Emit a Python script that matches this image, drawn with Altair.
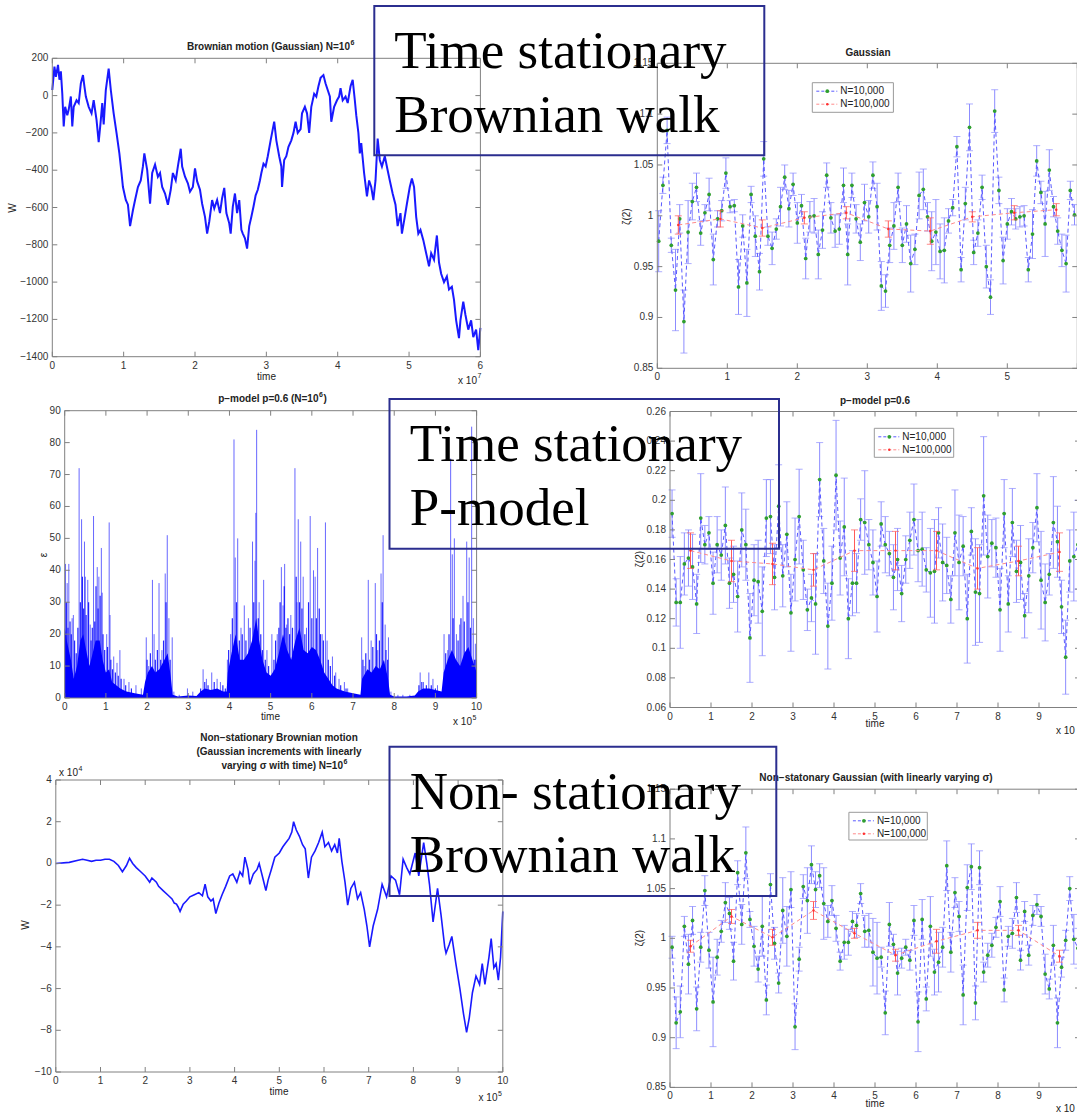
import altair as alt
import pandas as pd

CW, CH = 1077, 1114
SANS = "Liberation Sans"
SERIF = "Liberation Serif"
LABEL_C = "#333333"
FRAME_C = "#808080"

# ------------------------------------------------------------------ data
# Panel 1: stationary Brownian walk (time in 1e7, W)
bm_t = [0.00,0.03,0.05,0.08,0.10,0.12,0.14,0.16,0.18,0.21,0.23,0.26,0.28,0.30,0.34,0.37,0.40,0.43,0.45,0.47,
        0.51,0.55,0.58,0.62,0.65,0.68,0.70,0.72,0.75,0.79,0.82,0.86,0.90,0.94,0.97,0.99,1.03,1.06,1.09,1.13,
        1.16,1.20,1.24,1.27,1.29,1.33,1.37,1.40,1.44,1.48,1.51,1.54,1.58,1.62,1.66,1.69,1.73,1.76,1.80,1.82,
        1.86,1.90,1.93,1.97,2.00,2.03,2.07,2.10,2.14,2.17,2.20,2.24,2.27,2.31,2.35,2.38,2.41,2.44,2.48,2.50,
        2.53,2.56,2.59,2.62,2.65,2.67,2.70,2.73,2.76,2.79,2.82,2.85,2.88,2.91,2.93,2.96,2.99,3.02,3.06,3.08,
        3.11,3.14,3.18,3.21,3.22,3.25,3.28,3.31,3.35,3.38,3.41,3.44,3.48,3.50,3.54,3.57,3.60,3.63,3.67,3.70,
        3.73,3.76,3.80,3.83,3.86,3.89,3.91,3.95,3.99,4.02,4.04,4.07,4.11,4.14,4.18,4.21,4.24,4.26,4.29,4.31,
        4.33,4.37,4.41,4.44,4.47,4.50,4.53,4.56,4.59,4.62,4.66,4.70,4.73,4.77,4.81,4.84,4.88,4.90,4.94,4.97,
        5.01,5.04,5.07,5.10,5.13,5.16,5.20,5.24,5.28,5.31,5.35,5.39,5.42,5.45,5.49,5.53,5.56,5.60,5.63,5.66,
        5.70,5.72,5.76,5.79,5.83,5.87,5.90,5.94,5.97,6.00]
bm_w = [30,155,100,165,85,130,10,-165,-60,-105,-75,-5,-165,-60,-25,-40,65,110,50,-5,
        -60,-95,-25,-130,-250,-130,-40,-155,30,145,30,-95,-200,-310,-415,-490,-560,-585,-700,-615,
        -560,-490,-455,-380,-310,-400,-580,-415,-370,-435,-415,-490,-525,-585,-505,-415,-455,-380,-285,-380,
        -435,-470,-515,-490,-390,-460,-505,-580,-650,-740,-675,-560,-605,-560,-630,-550,-495,-630,-685,-740,
        -595,-525,-630,-560,-720,-740,-765,-820,-700,-650,-595,-535,-505,-455,-415,-365,-380,-325,-240,-200,
        -140,-240,-325,-380,-490,-345,-325,-275,-240,-200,-140,-200,-180,-95,-60,-95,-200,-60,10,-5,
        50,95,110,65,30,-5,-140,-60,-25,-5,40,-25,-5,-40,50,85,-25,-105,-200,-310,
        -255,-415,-540,-455,-490,-560,-455,-230,-345,-380,-325,-400,-455,-525,-585,-700,-630,-740,-650,-580,
        -490,-445,-490,-650,-740,-720,-775,-845,-915,-845,-880,-750,-895,-955,-1000,-970,-1040,-1025,-1095,-1205,
        -1300,-1205,-1105,-1175,-1255,-1205,-1295,-1255,-1365,-1245]

# Panel 3: p-model cascade (time in 1e5, epsilon)
pm_base_t = [0.0,0.05,0.15,0.22,0.3,0.38,0.45,0.52,0.6,0.68,0.75,0.85,0.92,1.0,1.08,1.15,1.25,1.35,1.5,1.7,
             1.9,1.95,2.02,2.12,2.2,2.3,2.42,2.5,2.58,2.62,2.75,3.0,3.2,3.3,3.4,3.55,3.7,3.85,3.93,3.96,
             4.05,4.15,4.25,4.35,4.45,4.55,4.65,4.72,4.8,4.9,5.0,5.1,5.2,5.3,5.4,5.5,5.6,5.7,5.8,5.9,
             6.0,6.1,6.2,6.3,6.4,6.5,6.6,6.8,7.0,7.18,7.22,7.35,7.45,7.55,7.65,7.75,7.85,7.9,8.0,8.3,
             8.5,8.58,8.7,8.85,9.0,9.15,9.2,9.3,9.4,9.5,9.6,9.7,9.8,9.9,10.0]
pm_base_v = [22,18,12,6,10,18,20,15,10,14,18,18,12,8,9,5,4,3,2,1.5,
             1,5,8,10,8,9,12,14,6,1,0.5,0.8,0.6,2,3,2.5,3,2,2,8,
             14,20,12,12,14,18,25,18,12,8,7,9,14,20,15,12,18,22,15,14,
             16,15,12,8,6,4,3,2,1.5,1,6,9,8,10,9,12,6,1,0.5,0.5,
             0.8,2,3,3,2.5,2,8,12,15,12,10,14,16,12,8]
pm_mid_t = [0.04,0.08,0.13,0.16,0.24,0.28,0.32,0.38,0.43,0.46,0.52,0.58,0.64,0.67,0.73,0.76,0.81,0.86,0.93,0.97,
            1.04,1.12,1.16,1.23,1.30,1.37,1.48,1.62,2.00,2.08,2.20,2.25,2.33,2.40,2.46,2.56,3.30,3.40,3.48,3.63,
            3.84,3.90,3.98,4.07,4.17,4.24,4.31,4.40,4.50,4.59,4.70,4.76,4.80,4.87,4.95,5.08,5.12,5.20,5.23,5.33,
            5.37,5.42,5.46,5.53,5.62,5.70,5.76,5.83,5.92,6.00,6.11,6.18,6.21,6.28,6.40,6.45,6.55,6.70,6.83,7.24,
            7.31,7.40,7.48,7.57,7.64,7.71,7.80,7.84,8.60,8.67,8.78,8.90,9.00,9.25,9.33,9.43,9.55,9.62,9.70,9.79,
            9.85,9.95,9.99]
pm_mid_v = [30,22,24,20,18,14,22,30,38,28,26,30,18,22,24,35,28,32,20,15,
            16,12,9,8,7,6,4,3,12,14,12,15,12,18,30,12,3,5,4,5,
            4,3,15,25,30,18,20,18,22,30,25,20,15,12,10,12,18,22,30,35,
            22,25,20,22,38,30,28,20,30,25,25,28,20,18,12,10,7,4,3,12,
            14,12,16,20,18,30,15,12,4,5,4,4,3,14,20,25,18,25,24,30,
            22,12,12]
pm_spk_t = [0.02,0.06,0.10,0.18,0.21,0.35,0.41,0.48,0.50,0.56,0.62,0.70,0.79,0.83,0.89,0.91,1.02,1.08,1.10,1.19,
            1.27,1.34,1.44,1.56,1.73,1.86,1.98,2.04,2.13,2.17,2.29,2.36,2.44,2.49,2.53,2.61,2.65,2.78,2.98,3.11,
            3.36,3.44,3.57,3.70,3.78,3.95,4.03,4.11,4.14,4.20,4.28,4.36,4.46,4.56,4.62,4.64,4.66,4.72,4.83,4.91,
            5.03,5.16,5.26,5.30,5.34,5.39,5.49,5.59,5.64,5.67,5.73,5.79,5.87,5.96,6.04,6.08,6.14,6.25,6.33,6.37,
            6.50,6.58,6.66,6.79,6.87,7.21,7.27,7.37,7.44,7.54,7.60,7.68,7.73,7.78,7.86,7.92,8.09,8.21,8.38,8.63,
            8.71,8.84,8.94,9.05,9.21,9.30,9.37,9.41,9.46,9.51,9.59,9.67,9.76,9.82,9.88,9.92,9.97]
pm_spk_v = [42,36,42,25,26,72,56,49,38,37,23,57,41,38,47,33,20,55,26,13,
            11,15,6,5,4,3,19,10,37,20,36,15,39,51,25,19,2,1,3,2,
            9,6,8,6,5,12,20,81,44,50,22,29,25,49,43,58,84,30,37,15,
            20,20,41,29,42,23,26,72,30,56,49,38,22,57,40,38,47,20,55,18,
            13,8,6,5,3,19,10,37,18,36,15,39,51,23,19,2,1,1,1,8,
            5,8,6,4,20,15,75,45,50,20,23,32,49,44,85,25,17]

# Panel 5: non-stationary Brownian walk (time in 1e5, W in 1e4)
ns_t = [0.0,0.3,0.5,0.6,0.7,0.8,0.9,1.0,1.1,1.2,1.3,1.4,1.49,1.58,1.65,1.72,1.8,1.9,2.0,2.1,
        2.15,2.25,2.3,2.4,2.5,2.6,2.65,2.7,2.74,2.78,2.85,2.92,3.0,3.1,3.2,3.28,3.34,3.4,3.47,3.52,
        3.58,3.65,3.72,3.8,3.89,3.96,4.05,4.12,4.18,4.23,4.3,4.34,4.42,4.5,4.55,4.62,4.7,4.75,4.82,4.9,
        5.0,5.08,5.15,5.22,5.28,5.32,5.38,5.45,5.52,5.58,5.65,5.72,5.8,5.88,5.96,6.02,6.1,6.17,6.24,6.3,
        6.34,6.4,6.47,6.53,6.6,6.68,6.75,6.82,6.9,6.96,7.02,7.1,7.2,7.3,7.4,7.5,7.6,7.69,7.77,7.85,
        7.92,8.04,8.12,8.23,8.3,8.36,8.44,8.54,8.62,8.7,8.73,8.8,8.86,8.95,9.04,9.12,9.19,9.25,9.32,9.4,
        9.48,9.54,9.6,9.69,9.74,9.8,9.85,9.9,9.95,10.0]
ns_w = [0.0,0.05,0.15,0.2,0.15,0.1,0.15,0.15,0.2,0.2,0.1,-0.1,-0.4,-0.1,0.25,0.0,-0.2,-0.4,-0.6,-0.9,
        -0.7,-0.9,-1.1,-1.3,-1.5,-1.7,-1.9,-1.95,-2.1,-2.3,-1.95,-1.8,-1.6,-1.5,-1.4,-1.55,-1.0,-1.6,-1.8,-1.7,
        -2.4,-1.9,-1.5,-1.1,-0.6,-0.5,-0.9,-0.4,-0.6,0.3,-0.3,-1.0,-0.5,-0.3,0.0,-0.6,-1.3,-0.8,-0.3,0.3,
        0.5,0.8,1.0,1.2,1.5,2.0,1.6,1.3,0.9,0.7,-0.7,0.3,0.6,1.0,1.5,0.8,1.0,0.6,0.9,0.5,
        1.2,0.1,-0.9,-2.0,-1.2,-0.9,-1.7,-1.4,-2.2,-3.0,-4.0,-3.0,-2.2,-1.0,-1.6,-0.6,-0.8,-1.5,0.2,-0.2,
        -0.5,0.5,-0.6,1.0,0.0,-1.0,-2.8,-1.2,-2.5,-4.0,-4.3,-3.9,-3.5,-4.8,-6.0,-7.2,-8.1,-7.4,-6.2,-5.4,
        -5.8,-4.8,-5.8,-4.5,-3.6,-5.0,-4.8,-5.6,-4.5,-2.3]

# Panel 2: Gaussian zeta(2)
g_val = [0.975,1.030,1.084,0.971,0.927,0.997,0.896,0.984,1.014,1.028,
         0.983,1.003,1.021,0.957,0.997,1.005,1.042,1.009,1.010,0.930,
         0.990,0.934,1.021,0.980,0.945,1.056,0.980,0.968,0.987,1.009,
         1.038,1.007,1.031,0.993,1.010,0.958,0.999,1.000,0.962,0.986,
         1.040,0.998,0.985,0.987,1.030,0.962,1.030,0.997,0.974,1.013,
         0.999,1.040,1.009,0.931,0.926,0.971,0.990,1.028,0.971,0.992,
         0.953,0.967,1.020,1.026,0.999,0.975,0.984,0.965,0.966,0.995,
         1.008,1.068,0.947,1.012,1.087,0.964,0.983,1.028,0.950,0.920,
         1.103,1.025,0.956,0.992,1.004,0.997,0.999,1.000,0.947,0.982,
         1.054,1.023,0.992,1.045,1.009,0.985,0.966,0.953,1.025,1.001]
g_err = [0.030,0.008,0.013,0.007,0.040,0.014,0.031,0.031,0.018,0.014,
         0.012,0.008,0.016,0.025,0.008,0.010,0.015,0.006,0.006,0.027,
         0.011,0.033,0.008,0.020,0.018,0.017,0.009,0.016,0.010,0.019,
         0.012,0.018,0.011,0.020,0.011,0.020,0.015,0.017,0.024,0.018,
         0.012,0.015,0.016,0.015,0.017,0.030,0.012,0.014,0.018,0.018,
         0.016,0.013,0.023,0.024,0.016,0.017,0.023,0.014,0.017,0.018,
         0.028,0.015,0.023,0.020,0.014,0.029,0.032,0.027,0.032,0.012,
         0.008,0.010,0.012,0.016,0.023,0.012,0.013,0.012,0.021,0.017,
         0.021,0.013,0.023,0.015,0.013,0.010,0.010,0.010,0.012,0.024,
         0.015,0.011,0.032,0.020,0.010,0.013,0.016,0.028,0.009,0.010]
g_red_val = [0.991,0.997,0.988,0.998,1.003,0.987,0.985,0.999,1.003,1.006]
g_red_err = [0.009,0.008,0.008,0.006,0.006,0.008,0.013,0.005,0.007,0.006]

# Panel 4: p-model zeta(2)
p_val = [0.191,0.131,0.131,0.157,0.161,0.155,0.130,0.188,0.170,0.178,
         0.144,0.170,0.163,0.183,0.144,0.150,0.135,0.180,0.170,0.107,
         0.146,0.145,0.125,0.188,0.189,0.148,0.196,0.149,0.177,0.124,
         0.160,0.189,0.153,0.126,0.134,0.130,0.214,0.159,0.115,0.144,
         0.217,0.161,0.182,0.120,0.144,0.144,0.187,0.185,0.170,0.158,
         0.135,0.184,0.170,0.164,0.148,0.160,0.137,0.160,0.173,0.187,
         0.166,0.167,0.153,0.151,0.152,0.178,0.158,0.156,0.133,0.178,
         0.158,0.169,0.120,0.179,0.138,0.137,0.203,0.162,0.171,0.168,
         0.126,0.191,0.130,0.185,0.152,0.158,0.122,0.149,0.168,0.195,
         0.146,0.131,0.150,0.185,0.172,0.128,0.094,0.159,0.162,0.170]
p_err = [0.016,0.016,0.031,0.021,0.019,0.022,0.020,0.030,0.013,0.011,
         0.021,0.019,0.017,0.026,0.017,0.019,0.024,0.025,0.024,0.030,
         0.024,0.028,0.030,0.026,0.025,0.022,0.028,0.021,0.022,0.026,
         0.028,0.032,0.020,0.014,0.016,0.034,0.025,0.022,0.029,0.025,
         0.037,0.025,0.033,0.027,0.022,0.020,0.014,0.035,0.017,0.022,
         0.024,0.015,0.019,0.015,0.022,0.021,0.019,0.016,0.019,0.024,
         0.021,0.025,0.015,0.030,0.035,0.017,0.026,0.019,0.016,0.029,
         0.032,0.020,0.030,0.016,0.036,0.033,0.040,0.028,0.016,0.020,
         0.028,0.023,0.019,0.023,0.021,0.025,0.015,0.025,0.017,0.023,
         0.033,0.026,0.014,0.031,0.024,0.018,0.025,0.021,0.030,0.030]
p_red_val = [0.166,0.159,0.157,0.153,0.166,0.166,0.166,0.154,0.159,0.165]
p_red_err = [0.012,0.014,0.014,0.011,0.014,0.013,0.013,0.014,0.010,0.013]

# Panel 6: non-stationary Gaussian zeta(2)
n_val = [0.991,0.915,0.926,1.012,0.974,1.018,0.929,0.991,1.048,0.988,
         0.936,0.981,1.007,1.036,1.025,0.977,1.066,1.014,1.086,1.019,
         0.992,0.969,1.012,0.938,1.054,0.995,0.955,1.028,1.002,1.049,
         0.911,0.979,1.052,1.038,1.074,1.049,1.063,1.035,1.017,1.038,
         1.010,0.977,0.996,0.996,1.017,1.013,1.045,1.007,1.008,0.986,
         0.980,0.981,0.925,1.014,0.994,0.965,0.980,0.991,0.978,1.018,
         0.916,1.019,0.939,1.012,0.966,0.976,0.991,1.073,0.986,1.046,
         1.022,0.943,1.051,1.072,0.935,1.071,0.966,0.983,0.993,1.011,
         1.037,0.948,1.002,1.005,1.041,0.978,1.027,0.983,1.023,1.034,
         1.022,0.964,0.949,0.993,0.915,0.971,0.998,1.050,0.999,0.990]
n_err = [0.011,0.026,0.026,0.010,0.030,0.014,0.022,0.015,0.015,0.018,
         0.045,0.018,0.011,0.020,0.016,0.019,0.012,0.020,0.026,0.008,
         0.020,0.013,0.030,0.015,0.011,0.016,0.010,0.033,0.030,0.018,
         0.023,0.012,0.012,0.033,0.019,0.018,0.012,0.036,0.016,0.015,
         0.013,0.009,0.017,0.013,0.010,0.012,0.010,0.016,0.017,0.034,
         0.036,0.010,0.022,0.022,0.010,0.022,0.010,0.008,0.010,0.015,
         0.030,0.020,0.012,0.030,0.023,0.030,0.020,0.025,0.020,0.015,
         0.015,0.030,0.023,0.023,0.017,0.017,0.010,0.012,0.012,0.010,
         0.015,0.012,0.010,0.015,0.015,0.010,0.010,0.010,0.010,0.010,
         0.010,0.020,0.010,0.020,0.025,0.010,0.010,0.012,0.025,0.020]
n_red_val = [0.992,1.022,1.001,1.028,1.005,0.983,0.997,1.008,1.008,0.982]
n_red_err = [0.006,0.007,0.008,0.009,0.005,0.006,0.012,0.008,0.005,0.006]

# window centres (100 windows of N=10,000 and 10 windows of N=100,000)
g_t = [0.02 + 0.06 * i for i in range(100)]
g_red_t = [0.3 + 0.6 * k for k in range(10)]
w_t = [0.05 + 0.1 * i for i in range(100)]
w_red_t = [0.5 + 1.0 * k for k in range(10)]

# tick values
t6 = [0, 1, 2, 3, 4, 5, 6]
t10 = [0, 1, 2, 3, 4, 5, 6, 7, 8, 9, 10]
y1_ticks = [-1400, -1200, -1000, -800, -600, -400, -200, 0, 200]
zeta_ticks = [0.85, 0.9, 0.95, 1.0, 1.05, 1.1, 1.15]
eps_ticks = [0, 10, 20, 30, 40, 50, 60, 70, 80, 90]
pz_ticks = [0.06, 0.08, 0.1, 0.12, 0.14, 0.16, 0.18, 0.2, 0.22, 0.24, 0.26]
y5_ticks = [-10, -8, -6, -4, -2, 0, 2, 4]

# ------------------------------------------------------------------ layout (pixels)
G1 = dict(xdom=[0, 6], ydom=[-1400, 200], x0=52.3, x1=480.4, yb=356.7, yt=58.3)
G2 = dict(xdom=[0, 6], ydom=[0.85, 1.15], x0=657.3, x1=1077.3, yb=368.3, yt=63.3)
G3 = dict(xdom=[0, 10], ydom=[0, 90], x0=64.7, x1=476.6, yb=698.0, yt=410.7)
G4 = dict(xdom=[0, 10], ydom=[0.06, 0.26], x0=670.0, x1=1080.0, yb=707.5, yt=411.5)
G5 = dict(xdom=[0, 10], ydom=[-10, 4], x0=55.8, x1=502.8, yb=1072.0, yt=780.0)
G6 = dict(xdom=[0, 10], ydom=[0.85, 1.15], x0=670.0, x1=1080.0, yb=1087.4, yt=789.2)


def one():
    return pd.DataFrame({"k": [0]})


def fmt(v):
    return ("%g" % v).replace("-", "\u2212")


def scales(g):
    xs = alt.Scale(domain=g["xdom"], range=[g["x0"], g["x1"]], nice=False, zero=False)
    ys = alt.Scale(domain=g["ydom"], range=[g["yb"], g["yt"]], nice=False, zero=False)
    return xs, ys


def frame(g, xticks, yticks, xlabels, ylabels):
    xs, ys = scales(g)
    xd, yd = g["xdom"], g["ydom"]
    tx = 5.0 / (g["x1"] - g["x0"]) * (xd[1] - xd[0])
    ty = 5.0 / (g["yb"] - g["yt"]) * (yd[1] - yd[0])
    rule = dict(color=FRAME_C, strokeWidth=1)
    boxdf = pd.DataFrame({"xa": [xd[0]], "xb": [xd[1]], "ya": [yd[0]], "yb": [yd[1]]})
    box = alt.Chart(boxdf).mark_rect(fillOpacity=0, stroke=FRAME_C, strokeWidth=1).encode(
        x=alt.X("xa:Q", scale=xs, axis=None), x2="xb:Q",
        y=alt.Y("ya:Q", scale=ys, axis=None), y2="yb:Q")
    n, m = len(xticks), len(yticks)
    bdf = pd.DataFrame({"v": xticks, "a": [yd[0]] * n, "b": [yd[0] + ty] * n})
    tdf = pd.DataFrame({"v": xticks, "a": [yd[1]] * n, "b": [yd[1] - ty] * n})
    ldf = pd.DataFrame({"v": yticks, "a": [xd[0]] * m, "b": [xd[0] + tx] * m})
    rdf = pd.DataFrame({"v": yticks, "a": [xd[1]] * m, "b": [xd[1] - tx] * m})
    X = lambda f: alt.X(f, scale=xs, axis=None)
    Y = lambda f: alt.Y(f, scale=ys, axis=None)
    bottom = alt.Chart(bdf).mark_rule(**rule).encode(x=X("v:Q"), y=Y("a:Q"), y2="b:Q")
    top = alt.Chart(tdf).mark_rule(**rule).encode(x=X("v:Q"), y=Y("a:Q"), y2="b:Q")
    left = alt.Chart(ldf).mark_rule(**rule).encode(y=Y("v:Q"), x=X("a:Q"), x2="b:Q")
    right = alt.Chart(rdf).mark_rule(**rule).encode(y=Y("v:Q"), x=X("a:Q"), x2="b:Q")
    xl = pd.DataFrame({"v": xlabels, "a": [yd[0]] * len(xlabels), "lab": [fmt(v) for v in xlabels]})
    yl = pd.DataFrame({"v": ylabels, "a": [xd[0]] * len(ylabels), "lab": [fmt(v) for v in ylabels]})
    xlab = alt.Chart(xl).mark_text(font=SANS, fontSize=10, color=LABEL_C, baseline="top", dy=4).encode(
        x=X("v:Q"), y=Y("a:Q"), text="lab:N")
    ylab = alt.Chart(yl).mark_text(font=SANS, fontSize=10, color=LABEL_C, align="right",
                                   baseline="middle", dx=-4).encode(
        y=Y("v:Q"), x=X("a:Q"), text="lab:N")
    return [box, bottom, top, left, right, xlab, ylab]


def errbars(g, t, v, e, line_c, bar_c, pt_c, pt_size, dash):
    xs, ys = scales(g)
    df = pd.DataFrame({"t": t, "v": v,
                       "lo": [a - b for a, b in zip(v, e)],
                       "hi": [a + b for a, b in zip(v, e)]})
    base = alt.Chart(df)
    X = alt.X("t:Q", scale=xs, axis=None)
    bars = base.mark_rule(color=bar_c, strokeWidth=1).encode(
        x=X, y=alt.Y("lo:Q", scale=ys, axis=None), y2="hi:Q")
    cap_lo = base.mark_tick(color=bar_c, orient="horizontal", size=7, thickness=1).encode(
        x=X, y=alt.Y("lo:Q", scale=ys, axis=None))
    cap_hi = base.mark_tick(color=bar_c, orient="horizontal", size=7, thickness=1).encode(
        x=X, y=alt.Y("hi:Q", scale=ys, axis=None))
    line = base.mark_line(color=line_c, strokeDash=dash, strokeWidth=1).encode(
        x=X, y=alt.Y("v:Q", scale=ys, axis=None))
    pts = base.mark_point(filled=True, color=pt_c, size=pt_size, opacity=1).encode(
        x=X, y=alt.Y("v:Q", scale=ys, axis=None))
    return [bars, cap_lo, cap_hi, line, pts]


def vtext(txt, x, y, size=10, weight="normal", align="center", font=SANS, color="#222222",
          baseline="middle", angle=0):
    return alt.Chart(one()).mark_text(text=txt, font=font, fontSize=size, fontWeight=weight,
                                      align=align, baseline=baseline, color=color, angle=angle).encode(
        x=alt.value(x), y=alt.value(y))


def legend(x0, y0, x1, y1):
    out = [alt.Chart(one()).mark_rect(fill="white", stroke="#9a9a9a", strokeWidth=1).encode(
        x=alt.value(x0), x2=alt.value(x1), y=alt.value(y0), y2=alt.value(y1))]
    rows = [(y0 + 8.5, "#5a5aff", "#2f9f2f", 14, "N=10,000"),
            (y0 + 21.5, "#ff8a8a", "#ff3030", 6, "N=100,000")]
    for yy, lc, pc, ps, lab in rows:
        out.append(alt.Chart(one()).mark_rule(color=lc, strokeDash=[3, 2], strokeWidth=1).encode(
            x=alt.value(x0 + 4), x2=alt.value(x0 + 25), y=alt.value(yy)))
        out.append(alt.Chart(one()).mark_point(filled=True, color=pc, size=ps, opacity=1).encode(
            x=alt.value(x0 + 15), y=alt.value(yy)))
        out.append(vtext(lab, x0 + 28, yy, align="left"))
    return out


BLUE = "#0000ff"
BL_LINE, BL_BAR, GREEN = "#5a5aff", "#8c8cff", "#2f9f2f"
RD_LINE, RD_BAR, RD_PT = "#ff8a8a", "#ff5a5a", "#ff3030"

# ---------------- panel 1
xs1, ys1 = scales(G1)
p1_line = alt.Chart(pd.DataFrame({"t": bm_t, "w": bm_w})).mark_line(
    color=BLUE, strokeWidth=2.0, opacity=0.9).encode(
    x=alt.X("t:Q", scale=xs1, axis=None), y=alt.Y("w:Q", scale=ys1, axis=None))
panel1 = alt.layer(p1_line, *frame(G1, t6, y1_ticks, t6, y1_ticks))

# ---------------- panel 2
panel2 = alt.layer(
    *errbars(G2, g_t, g_val, g_err, BL_LINE, BL_BAR, GREEN, 14, [4, 3]),
    *errbars(G2, g_red_t, g_red_val, g_red_err, RD_LINE, RD_BAR, RD_PT, 6, [4, 3]),
    *frame(G2, t6, zeta_ticks, t6[:-1], zeta_ticks),
    *legend(812.3, 82.7, 893.4, 112.3))

# ---------------- panel 3
xs3, ys3 = scales(G3)
p3_area = alt.Chart(pd.DataFrame({"t": pm_base_t, "v": pm_base_v})).mark_area(
    color=BLUE, opacity=1).encode(
    x=alt.X("t:Q", scale=xs3, axis=None), y=alt.Y("v:Q", scale=ys3, axis=None))
p3_mid = alt.Chart(pd.DataFrame({"t": pm_mid_t, "v": pm_mid_v, "z": [0] * len(pm_mid_t)})).mark_rule(
    color=BLUE, strokeWidth=1.2, opacity=0.85).encode(
    x=alt.X("t:Q", scale=xs3, axis=None), y=alt.Y("z:Q", scale=ys3, axis=None), y2="v:Q")
p3_spk = alt.Chart(pd.DataFrame({"t": pm_spk_t, "v": pm_spk_v, "z": [0] * len(pm_spk_t)})).mark_rule(
    color=BLUE, strokeWidth=1, opacity=0.6).encode(
    x=alt.X("t:Q", scale=xs3, axis=None), y=alt.Y("z:Q", scale=ys3, axis=None), y2="v:Q")
panel3 = alt.layer(p3_spk, p3_mid, p3_area, *frame(G3, t10, eps_ticks, t10, eps_ticks))

# ---------------- panel 4
panel4 = alt.layer(
    *errbars(G4, w_t, p_val, p_err, BL_LINE, BL_BAR, GREEN, 14, [4, 3]),
    *errbars(G4, w_red_t, p_red_val, p_red_err, RD_LINE, RD_BAR, RD_PT, 6, [4, 3]),
    *frame(G4, t10, pz_ticks, t10[:-1], pz_ticks),
    *legend(874.3, 428.3, 953.7, 457.3))

# ---------------- panel 5
xs5, ys5 = scales(G5)
p5_line = alt.Chart(pd.DataFrame({"t": ns_t, "w": ns_w})).mark_line(
    color=BLUE, strokeWidth=1.6, opacity=0.9).encode(
    x=alt.X("t:Q", scale=xs5, axis=None), y=alt.Y("w:Q", scale=ys5, axis=None))
panel5 = alt.layer(p5_line, *frame(G5, t10, y5_ticks, t10, y5_ticks))

# ---------------- panel 6
panel6 = alt.layer(
    *errbars(G6, w_t, n_val, n_err, BL_LINE, BL_BAR, GREEN, 14, [4, 3]),
    *errbars(G6, w_red_t, n_red_val, n_red_err, RD_LINE, RD_BAR, RD_PT, 6, [4, 3]),
    *frame(G6, t10, zeta_ticks, t10[:-1], zeta_ticks),
    *legend(848.9, 812.3, 927.3, 840.0))

# ---------------- titles, axis titles and exponents
B = "bold"
texts = [
    # panel 1
    vtext("Brownian motion (Gaussian) N=10", 350, 46.7, weight=B, align="right"),
    vtext("6", 350.5, 42.5, size=7, weight=B, align="left"),
    vtext("time", 266.5, 376.7),
    vtext("W", 13, 208, angle=270),
    vtext("x 10", 477, 381, align="right"),
    vtext("7", 477.5, 376, size=7, align="left"),
    # panel 2
    vtext("Gaussian", 868, 52.7, weight=B),
    vtext("ζ(2)", 627, 216.7, angle=270),
    # panel 3
    vtext("p\u2212model p=0.6 (N=10", 318.5, 399.3, weight=B, align="right"),
    vtext("6", 319, 395.3, size=7, weight=B, align="left"),
    vtext(")", 323.5, 399.3, weight=B, align="left"),
    vtext("time", 270.5, 716.7),
    vtext("ε", 44, 555, angle=270),
    vtext("x 10", 472, 722.3, align="right"),
    vtext("5", 472.5, 718, size=7, align="left"),
    # panel 4
    vtext("p\u2212model p=0.6", 875, 400.7, weight=B),
    vtext("time", 875, 724.3),
    vtext("ζ(2)", 640, 559.3, angle=270),
    vtext("x 10", 1056, 731, align="left"),
    # panel 5
    vtext("Non\u2212stationary Brownian motion", 279, 738.3, weight=B),
    vtext("(Gaussian increments with linearly", 279, 751.7, weight=B),
    vtext("varying σ with time) N=10", 343, 766, weight=B, align="right"),
    vtext("6", 343.5, 761.5, size=7, weight=B, align="left"),
    vtext("x 10", 78, 772.7, align="right"),
    vtext("4", 78.5, 768.5, size=7, align="left"),
    vtext("time", 279, 1092.3),
    vtext("W", 26, 925, angle=270),
    vtext("x 10", 497.5, 1098.3, align="right"),
    vtext("5", 498, 1093.8, size=7, align="left"),
    # panel 6
    vtext("Non\u2212statonary Gaussian (with linearly varying σ)", 876, 777.7, weight=B),
    vtext("ζ(2)", 640, 938.3, angle=270),
    vtext("time", 875, 1104),
    vtext("x 10", 1056, 1109, align="left"),
]

# ---------------- slide text boxes
BOX_C = "#2b2e8f"


def tbox(x0, y0, x1, y1, line1, line2, tx, b1, b2):
    r = alt.Chart(one()).mark_rect(fillOpacity=0, stroke=BOX_C, strokeWidth=2).encode(
        x=alt.value(x0), x2=alt.value(x1), y=alt.value(y0), y2=alt.value(y1))
    return [r,
            vtext(line1, tx, b1, size=53, align="left", font=SERIF, color="#000000", baseline="alphabetic"),
            vtext(line2, tx, b2, size=53, align="left", font=SERIF, color="#000000", baseline="alphabetic")]


boxes = (tbox(374.3, 6.0, 764.3, 155.3, "Time stationary", "Brownian walk", 394.3, 68.3, 131.7)
         + tbox(389.5, 399.0, 779.0, 548.7, "Time stationary", "P-model", 409.8, 461.0, 525.0)
         + tbox(389.5, 746.7, 776.3, 896.0, "Non- stationary", "Brownian walk", 409.8, 809.0, 872.3))

chart = alt.layer(panel1, panel2, panel3, panel4, panel5, panel6, *texts, *boxes).resolve_scale(
    x="independent", y="independent").properties(
    width=CW, height=CH, autosize=alt.AutoSizeParams(type="none"), padding=0,
    background="white").configure_view(strokeWidth=0)

chart.save("out.html", embed_options={"renderer": "svg", "actions": False})
